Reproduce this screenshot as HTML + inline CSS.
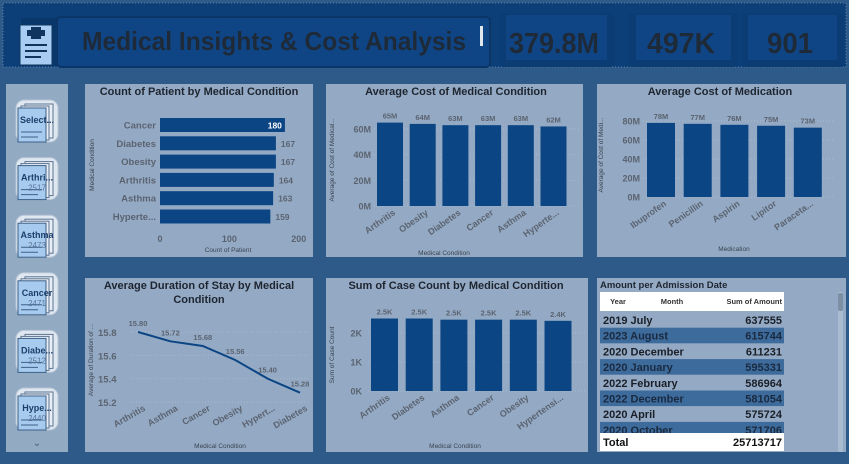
<!DOCTYPE html>
<html><head><meta charset="utf-8">
<style>
html,body{margin:0;padding:0;width:849px;height:464px;overflow:hidden;background:#2d5a88;}
svg{display:block;font-family:"Liberation Sans",sans-serif;}
</style></head>
<body>
<svg id="root" width="849" height="464" viewBox="0 0 849 464" xmlns="http://www.w3.org/2000/svg">
  <rect x="0" y="0" width="849" height="464" fill="#2d5a88"/>
  <!-- header -->
  <rect x="3" y="3" width="843" height="64" fill="#0c3f78" stroke="#5b7fa6" stroke-dasharray="1,2"/>
  <g>
    <rect x="21" y="18" width="36" height="48" fill="#093769"/>
    <rect x="20" y="25" width="32" height="40" fill="#a9cdf2" stroke="#10355f"/>
    <rect x="31" y="27" width="10" height="12" fill="#10355f"/><rect x="27" y="30" width="18" height="6" fill="#10355f"/>
    <rect x="25" y="44" width="22" height="2" fill="#10355f"/><rect x="25" y="50" width="22" height="2" fill="#10355f"/><rect x="25" y="56" width="16" height="2" fill="#10355f"/>
  </g>
  <rect x="57" y="17" width="433" height="50" rx="4" fill="#0f4585" stroke="#0a3566" stroke-width="2"/>
  <text x="82" y="50" textLength="384" lengthAdjust="spacingAndGlyphs" font-weight="bold" font-size="26" fill="#1f2a38">Medical Insights &amp; Cost Analysis</text>
  <rect x="480" y="26" width="3" height="20" fill="#dfe6ee"/>
  <rect x="499" y="13" width="115" height="54" rx="4" fill="#0b3d74"/>
  <rect x="506" y="15" width="101" height="45" fill="#0f4585"/>
  <text x="509" y="53" textLength="90" lengthAdjust="spacingAndGlyphs" font-weight="bold" font-size="29" fill="#1f2a38">379.8M</text>
  <rect x="628" y="13" width="110" height="54" rx="4" fill="#0b3d74"/>
  <rect x="636" y="15" width="95" height="45" fill="#0f4585"/>
  <text x="647" y="53" textLength="68" lengthAdjust="spacingAndGlyphs" font-weight="bold" font-size="29" fill="#1f2a38">497K</text>
  <rect x="741" y="13" width="103" height="54" rx="4" fill="#0b3d74"/>
  <rect x="748" y="15" width="89" height="45" fill="#0f4585"/>
  <text x="767" y="53" textLength="46" lengthAdjust="spacingAndGlyphs" font-weight="bold" font-size="29" fill="#1f2a38">901</text>

  <!-- sidebar -->
  <rect x="6" y="84" width="62" height="368" fill="#93aac3"/>
  <g id="slicers"></g>
  <text x="37" y="446" text-anchor="middle" font-size="10" fill="#4a5e78">⌄</text>

  <!-- panels -->
  <rect x="85" y="84" width="228" height="173" fill="#94aac4"/>
  <rect x="326" y="84" width="257" height="173" fill="#94aac4"/>
  <rect x="597" y="84" width="249" height="173" fill="#94aac4"/>
  <rect x="85" y="278" width="228" height="174" fill="#94aac4"/>
  <rect x="326" y="278" width="262" height="174" fill="#94aac4"/>
  <rect x="597" y="278" width="249" height="174" fill="#94aac4"/>

  <g id="charts"></g>
</svg>
<script>
const NS='http://www.w3.org/2000/svg';
const charts=document.getElementById('charts');
const slicers=document.getElementById('slicers');

// Chart 1: count of patient (horizontal bar)
const c1Categories=['Cancer','Diabetes','Obesity','Arthritis','Asthma','Hyperte...'];
const c1Values=[180,167,167,164,163,159];
const c1Ticks=[0,100,200];
// Chart 2: avg cost by condition (M)
const c2Categories=['Arthritis','Obesity','Diabetes','Cancer','Asthma','Hyperte...'];
const c2Values=[65,64,63,63,63,62];
const c2Ticks=[0,20,40,60];
// Chart 3: avg cost of medication (M)
const c3Categories=['Ibuprofen','Penicillin','Aspirin','Lipitor','Paraceta...'];
const c3Values=[78,77,76,75,73];
const c3Ticks=[0,20,40,60,80];
// Chart 4: avg duration of stay (line)
const c4Categories=['Arthritis','Asthma','Cancer','Obesity','Hypert...','Diabetes'];
const c4Values=[15.80,15.72,15.68,15.56,15.40,15.28];
const c4Ticks=[15.2,15.4,15.6,15.8];
// Chart 5: sum of case count (K)
const c5Categories=['Arthritis','Diabetes','Asthma','Cancer','Obesity','Hypertensi...'];
const c5Values=[2.5,2.5,2.46,2.46,2.46,2.42];
const c5Labels=['2.5K','2.5K','2.5K','2.5K','2.5K','2.4K'];
const c5Ticks=[0,1,2];
// Table
const tYears=['2019','2023','2020','2020','2022','2022','2020','2020'];
const tMonths=['July','August','December','January','February','December','April','October'];
const tAmounts=[637555,615744,611231,595331,586964,581054,575724,571706];
// Slicers
const sLabels=['Select...','Arthri...','Asthma','Cancer','Diabe...','Hype...'];
const sCounts=['','2517','2473','2471','2512','2440'];

function mk(tag,attrs,parent,txt){const e=document.createElementNS(NS,tag);for(const k in attrs)e.setAttribute(k,attrs[k]);if(txt!==undefined)e.textContent=txt;(parent||charts).appendChild(e);return e;}
const TXT='#5b6370', DARK='#1f2a38', BAR='#0b4584';

// slicers
sLabels.forEach((lab,i)=>{
  const y=102+i*57.6;
  const g=mk('g',{},slicers);
  
  
  mk('rect',{x:16,y:y-2,width:42,height:42,rx:8,fill:'#dfe7f0',stroke:'#b6c4d4'},g);
  mk('rect',{x:25,y:y+2,width:28,height:34,fill:'#e9eef5',stroke:'#5a7393'},g);
  mk('rect',{x:21,y:y+4,width:28,height:34,fill:'#e9eef5',stroke:'#5a7393'},g);
  mk('rect',{x:18,y:y+6,width:28,height:34,fill:'#a7cbef',stroke:'#3c5f88'},g);
  mk('line',{x1:21,y1:y+30,x2:42,y2:y+30,stroke:'#3c5f88'},g);
  mk('line',{x1:21,y1:y+35,x2:38,y2:y+35,stroke:'#3c5f88'},g);
  mk('text',{x:37,y:y+21,'text-anchor':'middle','font-size':9,'font-weight':'bold',fill:'#1c3f6a'},g,lab);
  if(sCounts[i]) mk('text',{x:37,y:y+31,'text-anchor':'middle','font-size':8,fill:'#5d7798'},g,sCounts[i]);
});

function title(x,y,t,name){const e=mk('text',{x:x,y:y,'text-anchor':'middle','font-size':11,'font-weight':'bold',fill:'#1e2530'},charts,t);

}

// ---- Chart 1
title(199,95,'Count of Patient by Medical Condition','chart1-title');
{
  const x0=160, pxPer=0.694, top=125, pitch=18.3;
  const sx=v=>x0+v*pxPer;
  c1Categories.forEach((c,i)=>{
    const cy=top+i*pitch;
    const r=mk('rect',{x:sx(0),y:cy-7,width:sx(c1Values[i])-sx(0),height:14,fill:BAR});
    
    
    const l=mk('text',{x:156,y:cy+3.5,'text-anchor':'end','font-size':9.5,'font-weight':'bold',fill:TXT},charts,c);
    
    
    const first=i===0;
    const v=mk('text',{x:first?sx(c1Values[i])-3:sx(c1Values[i])+5,y:cy+3.5,'text-anchor':first?'end':'start','font-size':8.5,'font-weight':'bold',fill:first?'#ffffff':TXT},charts,String(c1Values[i]));
    
    
  });
  c1Ticks.forEach(t=>{
    const e=mk('text',{x:sx(t),y:242,'text-anchor':'middle','font-size':9,'font-weight':'bold',fill:TXT},charts,String(t));
    
    
  });
  const xt=mk('text',{x:228,y:252,'text-anchor':'middle','font-size':6.5,fill:'#3a4350'},charts,'Count of Patient');
  
  
  const yt=mk('text',{x:0,y:0,'text-anchor':'middle','font-size':6.5,fill:'#3a4350',transform:'translate(94,165) rotate(-90)'},charts,'Medical Condition');
  
  
}

// generic vertical bar chart
function vbar(cfg){
  const sy=v=>cfg.base-v*cfg.pxPer;
  cfg.ticks.forEach(t=>{
    const g=mk('line',{x1:cfg.gx1,x2:cfg.gx2,y1:sy(t),y2:sy(t),stroke:'#a8bbd0','stroke-dasharray':'1,2'});
    
    
    const e=mk('text',{x:cfg.tickX,y:sy(t)+3.5,'text-anchor':'end','font-size':9,'font-weight':'bold',fill:TXT},charts,cfg.fmt(t));
    
    
  });
  cfg.cats.forEach((c,i)=>{
    const bx=cfg.x0+i*cfg.pitch;
    const r=mk('rect',{x:bx,y:sy(cfg.vals[i]),width:cfg.bw,height:sy(0)-sy(cfg.vals[i]),fill:BAR});
    
    
    const v=mk('text',{x:bx+cfg.bw/2,y:sy(cfg.vals[i])-4,'text-anchor':'middle','font-size':7.5,'font-weight':'bold',fill:TXT},charts,cfg.labels[i]);
    
    
    const cx=bx+cfg.bw/2+6, cy=cfg.base+8;
    const l=mk('text',{x:cx,y:cy,'text-anchor':'end','font-size':9,'font-weight':'bold',fill:TXT,transform:'rotate(-35 '+cx+' '+cy+')'},charts,c);
    
    
  });
  const xt=mk('text',{x:cfg.xtX,y:cfg.xtY,'text-anchor':'middle','font-size':6.5,fill:'#3a4350'},charts,cfg.xTitle);
  
  
  const yt=mk('text',{x:0,y:0,'text-anchor':'middle','font-size':6.5,fill:'#3a4350',transform:'translate('+cfg.ytX+','+cfg.ytY+') rotate(-90)'},charts,cfg.yTitle);
  
  
}

title(456,95,'Average Cost of Medical Condition','chart2-title');
vbar({id:'cost-condition',cats:c2Categories,vals:c2Values,labels:c2Values.map(v=>v+'M'),ticks:c2Ticks,fmt:t=>t+'M',
  base:206,pxPer:1.283,x0:377,pitch:32.7,bw:26,gx1:374,gx2:580,tickX:371,
  xTitle:'Medical Condition',xtX:444,xtY:255,yTitle:'Average of Cost of Medical...',ytX:334,ytY:160});

title(720,95,'Average Cost of Medication','chart3-title');
vbar({id:'cost-medication',cats:c3Categories,vals:c3Values,labels:c3Values.map(v=>v+'M'),ticks:c3Ticks,fmt:t=>t+'M',
  base:197,pxPer:0.95,x0:647,pitch:36.7,bw:28,gx1:643,gx2:835,tickX:640,
  xTitle:'Medication',xtX:734,xtY:251,yTitle:'Average of Cost of Medi...',ytX:603,ytY:155});

title(456,289,'Sum of Case Count by Medical Condition','chart5-title');
vbar({id:'case-count',cats:c5Categories,vals:c5Values,labels:c5Labels,ticks:c5Ticks,fmt:t=>t+'K',
  base:391,pxPer:29,x0:371,pitch:34.7,bw:27,gx1:368,gx2:585,tickX:362,
  xTitle:'Medical Condition',xtX:455,xtY:448,yTitle:'Sum of Case Count',ytX:334,ytY:355});

// ---- Chart 4 line
title(199,289,'Average Duration of Stay by Medical','chart4-title-line1');
title(199,303,'Condition','chart4-title-line2');
{
  const sy=v=>402-(v-15.2)*116.7;
  const sx=i=>138+i*32.4;
  c4Ticks.forEach(t=>{
    const g=mk('line',{x1:130,x2:310,y1:sy(t),y2:sy(t),stroke:'#a8bbd0','stroke-dasharray':'1,2'});
    
    
    const e=mk('text',{x:98,y:sy(t)+4,'font-size':9.5,'font-weight':'bold',fill:TXT},charts,t.toFixed(1));
    
    
  });
  const pts=c4Values.map((v,i)=>sx(i)+','+sy(v)).join(' ');
  const pl=mk('polyline',{points:pts,fill:'none',stroke:BAR,'stroke-width':2});
  
  
  c4Categories.forEach((c,i)=>{
    const v=mk('text',{x:sx(i),y:sy(c4Values[i])-6,'text-anchor':'middle','font-size':7.5,'font-weight':'bold',fill:TXT},charts,c4Values[i].toFixed(2));
    
    
    const cx=sx(i)+8, cy=410;
    const l=mk('text',{x:cx,y:cy,'text-anchor':'end','font-size':9,'font-weight':'bold',fill:TXT,transform:'rotate(-30 '+cx+' '+cy+')'},charts,c);
    
    
  });
  const xt=mk('text',{x:220,y:448,'text-anchor':'middle','font-size':6.5,fill:'#3a4350'},charts,'Medical Condition');
  
  
  const yt=mk('text',{x:0,y:0,'text-anchor':'middle','font-size':6.5,fill:'#3a4350',transform:'translate(93,360) rotate(-90)'},charts,'Average of Duration of ...');
  
  
}

// ---- Table
{
  const tt=mk('text',{x:600,y:288,'font-size':9.5,'font-weight':'bold',fill:'#1e2530'},charts,'Amount per Admission Date');
  
  
  const hdr=mk('rect',{x:600,y:292,width:184,height:19,fill:'#ffffff'});
  
  
  [['Year',618,'middle'],['Month',672,'middle'],['Sum of Amount',782,'end']].forEach(h=>{
    const e=mk('text',{x:h[1],y:304,'text-anchor':h[2],'font-size':7.5,'font-weight':'bold',fill:'#333'},charts,h[0]);
    
    
  });
  const clip=mk('clipPath',{id:'tclip'});mk('rect',{x:600,y:311,width:184,height:122},clip);
  const g=mk('g',{'clip-path':'url(#tclip)'});
  tAmounts.forEach((a,i)=>{
    const y=312+i*15.7;
    const r=mk('rect',{x:600,y:y,width:184,height:15.7,fill:i%2?'#3d6b9c':'#94aac4'},g);
    
    
    const c=i%2?'#1a2a40':'#1a1f28';
    mk('text',{x:603,y:y+12,'font-size':11,'font-weight':'bold',fill:c},g,tYears[i]+' '+tMonths[i]);
    mk('text',{x:782,y:y+12,'text-anchor':'end','font-size':11,'font-weight':'bold',fill:c},g,String(a));
  });
  const tot=mk('rect',{x:600,y:433,width:184,height:18,fill:'#ffffff'});
  
  
  mk('text',{x:603,y:446,'font-size':11,'font-weight':'bold',fill:'#111'},charts,'Total');
  mk('text',{x:782,y:446,'text-anchor':'end','font-size':11,'font-weight':'bold',fill:'#111'},charts,'25713717');
  const sb=mk('rect',{x:838,y:292,width:5,height:160,rx:2,fill:'#a9bbd0'});
  
  
  const th=mk('rect',{x:838,y:293,width:5,height:18,rx:2,fill:'#7d8fa5'});
  
  
}
</script>
</body></html>
